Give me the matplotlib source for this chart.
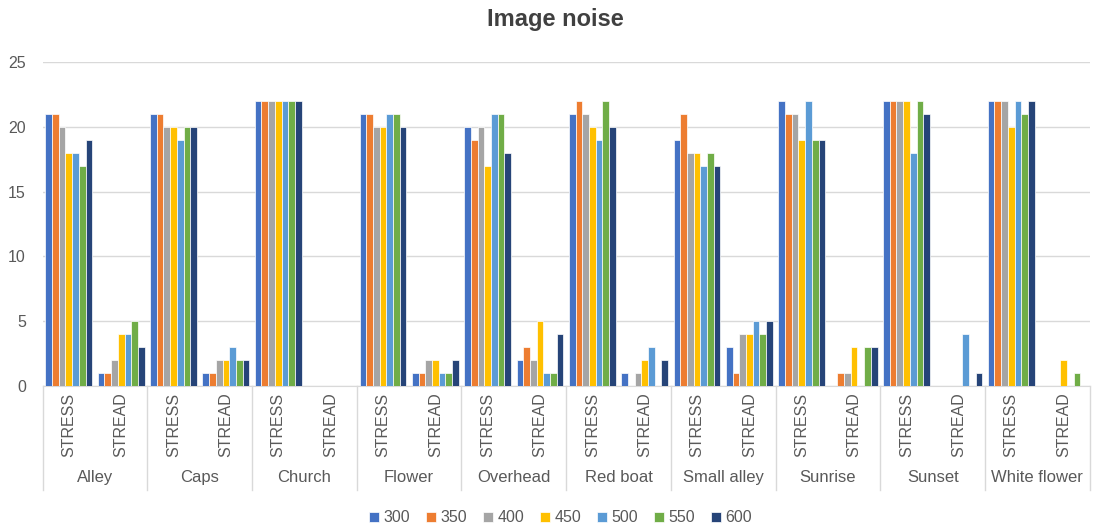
import numpy as np
import matplotlib
matplotlib.use("Agg")
import matplotlib.pyplot as plt
from matplotlib.transforms import blended_transform_factory

plt.rcParams['font.family'] = ['Liberation Sans', 'DejaVu Sans']

# 데이터
images = ["Alley", "Caps", "Church", "Flower", "Overhead", "Red boat",
          "Small alley", "Sunrise", "Sunset", "White flower"]
methods = ["STRESS", "STREAD"]
series_names = ["300", "350", "400", "450", "500", "550", "600"]
colors = ["#4472C4", "#ED7D31", "#A5A5A5", "#FFC000", "#5B9BD5", "#70AD47", "#264478"]

# 값: 각 시리즈, 순서는 (Alley STRESS, Alley STREAD, Caps STRESS, ...)
s300 = [21, 1, 21, 1, 22, 0, 21, 1, 20, 2, 21, 1, 19, 3, 22, 0, 22, 0, 22, 0]
s350 = [21, 1, 21, 1, 22, 0, 21, 1, 19, 3, 22, 0, 21, 1, 21, 1, 22, 0, 22, 0]
s400 = [20, 2, 20, 2, 22, 0, 20, 2, 20, 2, 21, 1, 18, 4, 21, 1, 22, 0, 22, 0]
s450 = [18, 4, 20, 2, 22, 0, 20, 2, 17, 5, 20, 2, 18, 4, 19, 3, 22, 0, 20, 2]
s500 = [18, 4, 19, 3, 22, 0, 21, 1, 21, 1, 19, 3, 17, 5, 22, 0, 18, 4, 22, 0]
s550 = [17, 5, 20, 2, 22, 0, 21, 1, 21, 1, 22, 0, 18, 4, 19, 3, 22, 0, 21, 1]
s600 = [19, 3, 20, 2, 22, 0, 20, 2, 18, 4, 20, 2, 17, 5, 19, 3, 21, 1, 22, 0]
all_series = [s300, s350, s400, s450, s500, s550, s600]

fig = plt.figure(figsize=(10.93, 5.25), dpi=100)
ax = fig.add_axes([0.039, 0.265, 0.958, 0.617])

n = len(all_series)
x = np.arange(len(images) * len(methods))
w = 0.895 / n
for i, vals in enumerate(all_series):
    ax.bar(x - 0.895 / 2 + w * (i + 0.5), vals, width=w, color=colors[i],
           edgecolor='white', linewidth=0.5, label=series_names[i], zorder=3)

ax.set_xlim(-0.5, len(x) - 0.5)
ax.set_ylim(0, 25)
ax.set_yticks(range(0, 26, 5))
ax.tick_params(axis='y', length=0, labelsize=11.5, labelcolor='#595959', pad=12)
ax.set_xticks([])
ax.grid(axis='y', color='#D9D9D9', linewidth=1, zorder=0)
for sp in ['top', 'right', 'left']:
    ax.spines[sp].set_visible(False)
ax.spines['bottom'].set_color('#D9D9D9')

# 다단계 카테고리 축
tr = blended_transform_factory(ax.transData, ax.transAxes)
for k, xi in enumerate(x):
    ax.text(xi, -0.12, methods[k % 2], transform=tr, rotation=90,
            ha='center', va='center', fontsize=11.5, color='#595959')
for g, name in enumerate(images):
    ax.text(2 * g + 0.5, -0.284, name, transform=tr, ha='center', va='center',
            fontsize=12, color='#595959')
for g in range(len(images) + 1):
    ax.plot([2 * g - 0.5, 2 * g - 0.5], [0, -0.32], transform=tr,
            color='#D9D9D9', linewidth=1, clip_on=False)

fig.suptitle("Image noise", x=0.508, y=0.985, fontsize=17, fontweight='bold',
             color='#404040')

fig.legend(loc='lower center', bbox_to_anchor=(0.513, -0.028), ncol=7,
           frameon=False, handlelength=0.6, handleheight=0.6, handletextpad=0.3,
           columnspacing=1.0, fontsize=11.5, labelcolor='#595959')

fig.savefig("out.png", dpi=100)
